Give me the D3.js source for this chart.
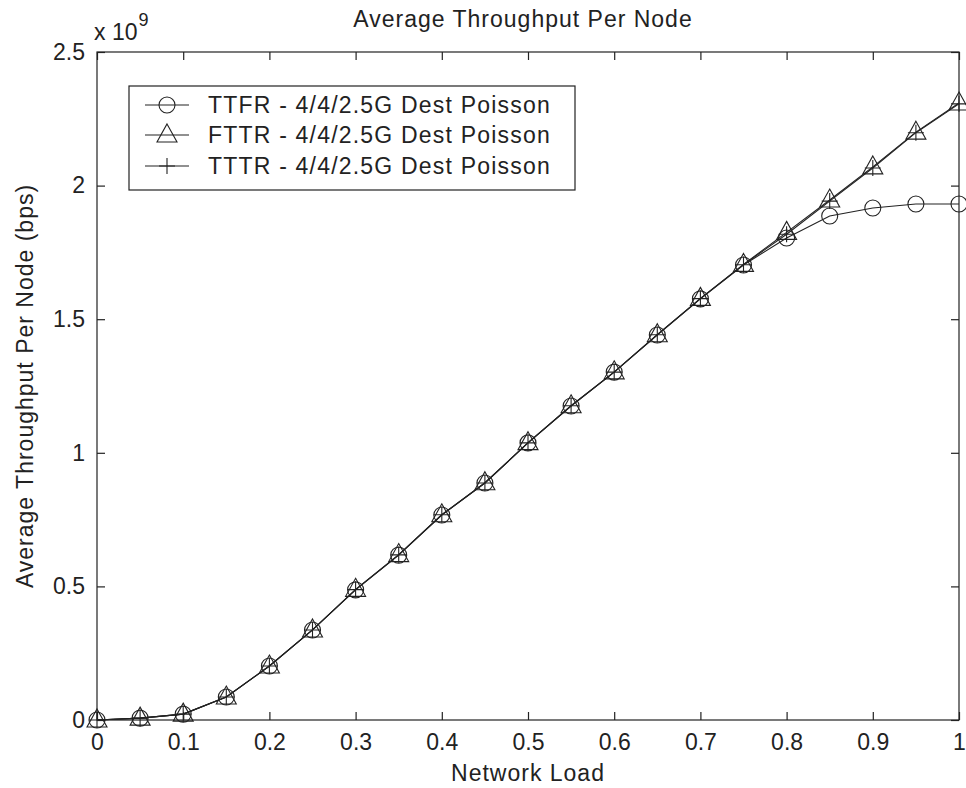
<!DOCTYPE html>
<html><head><meta charset="utf-8">
<script src="https://cdn.jsdelivr.net/npm/d3@7/dist/d3.min.js"></script>
<style>
html,body{margin:0;padding:0;background:#fff;}
svg{display:block;font-family:"Liberation Sans",Arial,sans-serif;}
</style></head>
<body><svg id="chart" width="966" height="788"></svg>
<script>
const loads = [0,0.05,0.1,0.15,0.2,0.25,0.3,0.35,0.4,0.45,0.5,0.55,0.6,0.65,0.7,0.75,0.8,0.85,0.9,0.95,1];
const ttfr = [0,0.007,0.022,0.086,0.202,0.337,0.487,0.617,0.767,0.887,1.037,1.175,1.302,1.441,1.576,1.703,1.804,1.886,1.916,1.931,1.931];
const fttr = [0,0.007,0.022,0.086,0.202,0.337,0.489,0.619,0.768,0.888,1.038,1.176,1.303,1.442,1.578,1.705,1.825,1.946,2.070,2.200,2.309];
const tttr = [0,0.007,0.022,0.086,0.202,0.337,0.488,0.618,0.768,0.887,1.037,1.176,1.302,1.442,1.577,1.704,1.818,1.942,2.066,2.198,2.306];
const seriesNames = ["TTFR - 4/4/2.5G Dest Poisson","FTTR - 4/4/2.5G Dest Poisson","TTTR - 4/4/2.5G Dest Poisson"];
const xTicks = [0,0.1,0.2,0.3,0.4,0.5,0.6,0.7,0.8,0.9,1];
const yTicks = [0,0.5,1,1.5,2,2.5];
const titleText = "Average Throughput Per Node";
const xLabel = "Network Load";
const yLabel = "Average Throughput Per Node (bps)";

const svg = d3.select("#chart");
const L = 97, R = 959, T = 52, B = 720;
const ink = "#222";
const x = d3.scaleLinear().domain([0,1]).range([L,R]);
const y = d3.scaleLinear().domain([0,2.5]).range([B,T]);
const fmt = d => d3.format("~g")(d);

// frame
svg.append("rect").attr("x",L).attr("y",T).attr("width",R-L).attr("height",B-T)
  .attr("fill","none").attr("stroke",ink).attr("stroke-width",1.2);

const tickLen = 8;
const axB = d3.axisBottom(x).tickValues(xTicks).tickFormat(fmt).tickSizeInner(-tickLen).tickSizeOuter(0).tickPadding(14);
const axT = d3.axisTop(x).tickValues(xTicks).tickFormat("").tickSizeInner(-tickLen).tickSizeOuter(0);
const axL = d3.axisLeft(y).tickValues(yTicks).tickFormat(fmt).tickSizeInner(-tickLen).tickSizeOuter(0).tickPadding(12);
const axR = d3.axisRight(y).tickValues(yTicks).tickFormat("").tickSizeInner(-tickLen).tickSizeOuter(0);
function styleAx(g){
  g.select(".domain").remove();
  g.selectAll("line").attr("stroke",ink).attr("stroke-width",1.2);
  g.selectAll("text").attr("fill",ink).style("font-size","23px").attr("font-family","Liberation Sans, Arial, sans-serif");
}
svg.append("g").attr("transform",`translate(0,${B})`).call(axB).call(styleAx);
svg.append("g").attr("transform",`translate(0,${T})`).call(axT).call(styleAx);
svg.append("g").attr("transform",`translate(${L},0)`).call(axL).call(styleAx);
svg.append("g").attr("transform",`translate(${R},0)`).call(axR).call(styleAx);

// exponent
const ex = svg.append("text").attr("x",94).attr("y",40).attr("fill",ink).style("font-size","23px");
ex.append("tspan").text("x 10");
ex.append("tspan").attr("dx",1).attr("dy",-14).style("font-size","18px").text("9");

// title and labels
svg.append("text").attr("x",523).attr("y",27).attr("text-anchor","middle").attr("fill",ink)
  .style("font-size","23px").style("letter-spacing","1px").text(titleText);
svg.append("text").attr("x",528).attr("y",781).attr("text-anchor","middle").attr("fill",ink)
  .style("font-size","23px").style("letter-spacing","1px").text(xLabel);
svg.append("text").attr("transform",`translate(33,${(T+B)/2}) rotate(-90)`).attr("text-anchor","middle").attr("fill",ink)
  .style("font-size","23px").style("letter-spacing","1px").text(yLabel);

// marker drawers
function circleM(g,cx,cy){ g.append("circle").attr("cx",cx).attr("cy",cy).attr("r",8).attr("fill","none").attr("stroke",ink).attr("stroke-width",1.1); }
function triM(g,cx,cy){ const w=10,h=9; g.append("path").attr("d",`M${cx},${cy-h-2}L${cx+w},${cy+h-2}L${cx-w},${cy+h-2}Z`).attr("fill","none").attr("stroke",ink).attr("stroke-width",1.1); }
function plusM(g,cx,cy){ const s=8; g.append("path").attr("d",`M${cx-s},${cy}H${cx+s}M${cx},${cy-s}V${cy+s}`).attr("fill","none").attr("stroke",ink).attr("stroke-width",1.1); }

const series = [
  {vals: ttfr, marker: circleM},
  {vals: fttr, marker: triM},
  {vals: tttr, marker: plusM}
];
const line = d3.line().x(d=>x(d[0])).y(d=>y(d[1]));
series.forEach(s=>{
  const pts = loads.map((l,i)=>[l,s.vals[i]]);
  svg.append("path").attr("d",line(pts)).attr("fill","none").attr("stroke",ink).attr("stroke-width",1.1);
  const g = svg.append("g");
  pts.forEach(p=>s.marker(g,x(p[0]),y(p[1])));
});

// legend
const lg = svg.append("g");
lg.append("rect").attr("x",129).attr("y",86).attr("width",446).attr("height",104)
  .attr("fill","#fff").attr("stroke",ink).attr("stroke-width",1.2);
const rows = [105,135,166];
series.forEach((s,i)=>{
  const yy = rows[i];
  lg.append("line").attr("x1",145).attr("x2",189).attr("y1",yy).attr("y2",yy).attr("stroke",ink).attr("stroke-width",1.1);
  s.marker(lg,167,yy);
  lg.append("text").attr("x",208).attr("y",yy+8).attr("fill",ink).style("font-size","23px").style("letter-spacing","1.2px").text(seriesNames[i]);
});
</script></body></html>
